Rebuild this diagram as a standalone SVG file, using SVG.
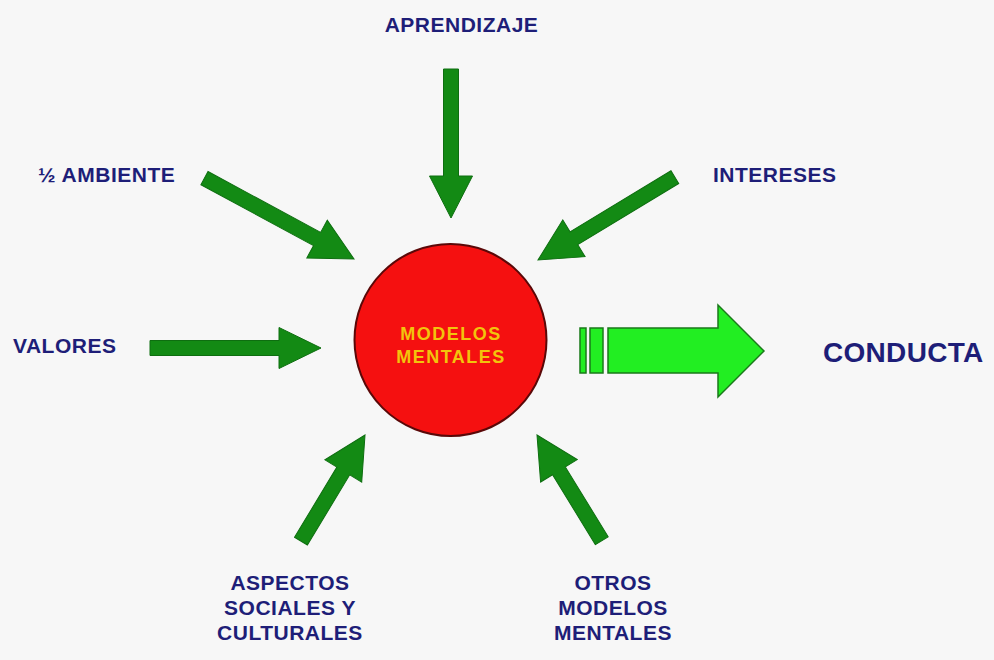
<svg xmlns="http://www.w3.org/2000/svg" width="994" height="660" viewBox="0 0 994 660">
<style>
.lbl{font-family:"Liberation Sans",Arial,sans-serif;font-weight:bold;font-size:21px;fill:#1e1e78;letter-spacing:0.5px}
.big{font-size:28px;letter-spacing:0.3px}
.inner{font-family:"Liberation Sans",Arial,sans-serif;font-weight:bold;font-size:18px;fill:#f2c40c;letter-spacing:1.5px}
.arr{fill:#138a14;stroke:#0e6e10;stroke-width:1}
</style>
<rect x="0" y="0" width="994" height="660" fill="#f7f7f7"/>
<g id="connectors">
  <path class="arr" transform="translate(451,218) rotate(90)" d="M-149,-7.5 L-42,-7.5 L-42,-21.5 L0,0 L-42,21.5 L-42,7.5 L-149,7.5 Z"/>
  <path class="arr" transform="translate(354,259) rotate(28.4)" d="M-170,-7.5 L-42,-7.5 L-42,-21.5 L0,0 L-42,21.5 L-42,7.5 L-170,7.5 Z"/>
  <path class="arr" transform="translate(538,260) rotate(148.8)" d="M-160,-7.5 L-42,-7.5 L-42,-21.5 L0,0 L-42,21.5 L-42,7.5 L-160,7.5 Z"/>
  <path class="arr" transform="translate(321,348)" d="M-171,-7.5 L-42,-7.5 L-42,-20.5 L0,0 L-42,20.5 L-42,7.5 L-171,7.5 Z"/>
  <path class="arr" transform="translate(365,435) rotate(-58.9)" d="M-124,-7.5 L-42,-7.5 L-42,-21.5 L0,0 L-42,21.5 L-42,7.5 L-124,7.5 Z"/>
  <path class="arr" transform="translate(537,435) rotate(-121.5)" d="M-124,-7.5 L-42,-7.5 L-42,-21.5 L0,0 L-42,21.5 L-42,7.5 L-124,7.5 Z"/>
  <g id="output-arrow" fill="#22ee22" stroke="#1a7a1a" stroke-width="1.5">
    <rect x="580" y="328" width="6" height="45"/>
    <rect x="590" y="328" width="13" height="45"/>
    <path d="M608,328 L718,328 L718,305 L764,351 L718,397 L718,373 L608,373 Z"/>
  </g>
</g>
<g id="modelos-mentales">
  <circle cx="450.5" cy="340" r="96" fill="#f51010" stroke="#5a0808" stroke-width="2"/>
  <text class="inner" x="451" y="340" text-anchor="middle">MODELOS</text>
  <text class="inner" x="451" y="363" text-anchor="middle">MENTALES</text>
</g>
<g id="aprendizaje"><text class="lbl" x="461.5" y="32" text-anchor="middle">APRENDIZAJE</text></g>
<g id="ambiente"><text class="lbl" x="38" y="182">½ AMBIENTE</text></g>
<g id="intereses"><text class="lbl" x="713" y="182">INTERESES</text></g>
<g id="valores"><text class="lbl" x="13" y="353">VALORES</text></g>
<g id="aspectos">
  <text class="lbl" x="290" y="590" text-anchor="middle">ASPECTOS</text>
  <text class="lbl" x="290" y="615" text-anchor="middle">SOCIALES Y</text>
  <text class="lbl" x="290" y="640" text-anchor="middle">CULTURALES</text>
</g>
<g id="otros">
  <text class="lbl" x="613" y="590" text-anchor="middle">OTROS</text>
  <text class="lbl" x="613" y="615" text-anchor="middle">MODELOS</text>
  <text class="lbl" x="613" y="640" text-anchor="middle">MENTALES</text>
</g>
<g id="conducta"><text class="lbl big" x="823" y="362">CONDUCTA</text></g>
</svg>
